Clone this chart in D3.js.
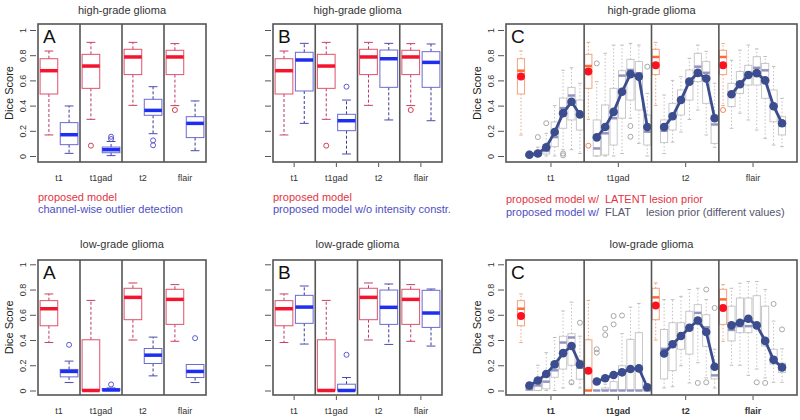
<!DOCTYPE html>
<html>
<head>
<meta charset="utf-8">
<script src="https://cdn.jsdelivr.net/npm/d3@7"></script>
<style>
  body { margin: 0; background: #fff; }
  svg text { font-family: "Liberation Sans", Arial, sans-serif; }
</style>
</head>
<body>
<div id="chart"></div>
<script>
const width = 800;
const height = 420;

// ---- data ----
const modalities = ['t1', 't1gad', 't2', 'flair'];
const yTicks = [0, 0.2, 0.4, 0.6, 0.8, 1];

// box stats: [lower whisker, q1, median, q3, upper whisker]
const hgProposed = [
  [0.167, 0.492, 0.677, 0.772, 0.833],
  [0.291, 0.537, 0.714, 0.807, 0.902],
  [0.402, 0.646, 0.786, 0.847, 0.902],
  [0.40, 0.646, 0.786, 0.839, 0.892]
];
const hgProposedOut = [[], [0.082], [], [0.365]];
const hgProposedMean = [0.63, 0.67, 0.72, 0.72];

const hgChannelWise = [
  [0.021, 0.09, 0.169, 0.265, 0.397],
  [0.003, 0.026, 0.05, 0.071, 0.115],
  [0.177, 0.323, 0.362, 0.45, 0.55],
  [0.042, 0.146, 0.259, 0.312, 0.437]
];
const hgChannelWiseOut = [[], [0.153, 0.135], [0.124, 0.085], []];

const hgNoConstr = [
  [0.259, 0.516, 0.762, 0.823, 0.894],
  [0.016, 0.201, 0.28, 0.331, 0.444],
  [0.286, 0.545, 0.772, 0.841, 0.894],
  [0.28, 0.545, 0.743, 0.828, 0.889]
];
const hgNoConstrOut = [[], [0.55], [], []];

const lgProposed = [
  [0.38, 0.513, 0.648, 0.712, 0.765],
  [0, 0, 0, 0.402, 0.714],
  [0.40, 0.561, 0.738, 0.81, 0.852],
  [0.39, 0.524, 0.722, 0.802, 0.839]
];
const lgProposedOut = [[], [], [], []];
const lgProposedMean = [0.59, 0.157, 0.673, 0.654];

const lgChannelWise = [
  [0.063, 0.108, 0.151, 0.167, 0.233],
  [0, 0, 0.004, 0.016, 0.02],
  [0.116, 0.214, 0.28, 0.333, 0.423],
  [0.063, 0.103, 0.151, 0.206, 0.206]
];
const lgChannelWiseOut = [[0.362], [0.048], [], [0.415]];

const lgNoConstr = [
  [0.368, 0.532, 0.661, 0.754, 0.828],
  [0, 0, 0, 0.05, 0.103],
  [0.365, 0.524, 0.659, 0.796, 0.844],
  [0.352, 0.5, 0.614, 0.794, 0.804]
];
const lgNoConstrOut = [[], [0.283], [], []];

// flat lesion prior, 7 settings per modality
const hgFlat = [
  [[0, 0, 0.005, 0.015, 0.04], [0, 0.005, 0.01, 0.03, 0.07], [0, 0.016, 0.04, 0.074, 0.18],
   [0, 0.074, 0.15, 0.27, 0.40], [0.05, 0.22, 0.38, 0.46, 0.68], [0.05, 0.286, 0.48, 0.545, 0.70],
   [0.02, 0.206, 0.33, 0.444, 0.577]],
  [[0, 0, 0.06, 0.286, 0.59], [0, 0.008, 0.18, 0.405, 0.815], [0, 0.087, 0.30, 0.537, 0.88],
   [0.02, 0.30, 0.638, 0.677, 0.88], [0.30, 0.444, 0.683, 0.767, 0.894], [0.10, 0.365, 0.656, 0.749, 0.88],
   [0, 0.087, 0.193, 0.325, 0.497]],
  [[0.02, 0.106, 0.20, 0.286, 0.484], [0.11, 0.206, 0.30, 0.418, 0.60], [0.19, 0.325, 0.45, 0.524, 0.63],
   [0.29, 0.444, 0.60, 0.683, 0.775], [0.365, 0.59, 0.709, 0.815, 0.88], [0.167, 0.418, 0.66, 0.749, 0.83],
   [0.07, 0.10, 0.25, 0.325, 0.577]],
  [[0.22, 0.392, 0.49, 0.577, 0.76], [0.34, 0.497, 0.58, 0.67, 0.84], [0.286, 0.563, 0.66, 0.72, 0.88],
   [0.206, 0.563, 0.70, 0.788, 0.85], [0.14, 0.458, 0.68, 0.735, 0.79], [0.087, 0.272, 0.40, 0.524, 0.71],
   [0.074, 0.167, 0.24, 0.312, 0.458]]
];
const hgFlatOut = [
  [[], [0.15], [0.26], [], [0.02, 0.005], [], []],
  [[0.735], [], [], [], [0.238, 0.153], [], [0.709]],
  [[], [], [], [], [], [], []],
  [[], [], [], [], [], [], []]
];
const hgFlatMean = [
  [0.01, 0.02, 0.07, 0.19, 0.34, 0.43, 0.33],
  [0.148, 0.23, 0.35, 0.51, 0.65, 0.63, 0.23],
  [0.23, 0.315, 0.445, 0.59, 0.66, 0.615, 0.30],
  [0.49, 0.57, 0.643, 0.658, 0.60, 0.395, 0.26]
];

const lgFlat = [
  [[0, 0, 0.01, 0.03, 0.06], [0, 0, 0.04, 0.09, 0.20], [0, 0.013, 0.07, 0.144, 0.30],
   [0, 0.105, 0.16, 0.222, 0.42], [0.02, 0.17, 0.38, 0.43, 0.63], [0.05, 0.20, 0.42, 0.45, 0.70],
   [0.02, 0.09, 0.18, 0.24, 0.43]],
  [[0, 0, 0, 0, 0], [0, 0, 0, 0.02, 0.05], [0, 0, 0, 0.07, 0.15],
   [0, 0, 0, 0.196, 0.45], [0, 0, 0, 0.405, 0.66], [0, 0, 0, 0.458, 0.69],
   [0, 0, 0, 0.02, 0.04]],
  [[0.02, 0.092, 0.33, 0.484, 0.72], [0.03, 0.157, 0.35, 0.537, 0.72], [0.196, 0.327, 0.42, 0.537, 0.746],
   [0.06, 0.288, 0.497, 0.628, 0.80], [0.22, 0.524, 0.615, 0.68, 0.81], [0.10, 0.35, 0.50, 0.60, 0.72],
   [0.02, 0.092, 0.12, 0.183, 0.327]],
  [[0.20, 0.393, 0.48, 0.668, 0.81], [0.20, 0.458, 0.51, 0.733, 0.85], [0.12, 0.458, 0.51, 0.733, 0.864],
   [0.17, 0.505, 0.52, 0.751, 0.864], [0.10, 0.353, 0.39, 0.668, 0.80], [0.065, 0.209, 0.26, 0.327, 0.55],
   [0.065, 0.144, 0.175, 0.217, 0.33]]
];
const lgFlatOut = [
  [[], [], [], [], [], [0.065], [0.537]],
  [[0.327, 0.30], [0.49, 0.44], [0.59, 0.524], [0.594], [], [], []],
  [[], [], [], [], [0.06], [0.80, 0.065], [0.654]],
  [[], [], [], [0.065], [0.06], [0.686], [0.484]]
];
const lgFlatMean = [
  [0.04, 0.079, 0.131, 0.207, 0.296, 0.353, 0.207],
  [0.071, 0.097, 0.123, 0.144, 0.17, 0.175, 0.026],
  [0.293, 0.366, 0.432, 0.497, 0.555, 0.463, 0.188],
  [0.516, 0.537, 0.568, 0.516, 0.393, 0.243, 0.183]
];

// ---- styles ----
const frameColor = '#555';
const textColor = '#333';
const redStyle = {box: '#e2506a', median: '#f5142d', whisker: '#b83b6b', cap: '#c8405a', out: '#d04050', dash: '3,2', medW: 3.5, boxW: 1};
const blueStyle = {box: '#6a6ad6', median: '#1f2ff0', whisker: '#3a3a9a', cap: '#4a4ab0', out: '#5a5ad0', dash: '3,2', medW: 3.5, boxW: 1};
const orangeStyle = {box: '#f3a37e', median: '#ff6a33', whisker: '#f3a37e', cap: '#f3a37e', out: '#f08a60', dash: '1.5,2', medW: 2.5, boxW: 1};
const greyStyle = {box: '#c2c2c2', median: '#9494c0', whisker: '#c2c2c2', cap: '#bdbdbd', out: '#a8a8a8', dash: '1.5,2', medW: 2.5, boxW: 0.9};
const lineBlue = '#3b4d8f';

const rows = [
  {top: 24, bottom: 162, y: d3.scaleLinear().domain([0, 1]).range([156, 30]), title: 'high-grade glioma', titleY: 14},
  {top: 260, bottom: 395, y: d3.scaleLinear().domain([0, 1]).range([390.5, 264.3]), title: 'low-grade glioma', titleY: 248}
];
const panelA = [38, 206];
const panelB = [273, 442];
const panelC = [506, 797];

const svg = d3.select('#chart')
  .append('svg')
  .attr('width', width)
  .attr('height', height);

svg.append('rect').attr('width', width).attr('height', height).attr('fill', '#fff');

function frame(x0, x1, row, letter, showLabels) {
  const g = svg.append('g');
  g.append('rect')
    .attr('x', x0).attr('y', row.top)
    .attr('width', x1 - x0).attr('height', row.bottom - row.top)
    .attr('fill', 'none').attr('stroke', frameColor).attr('stroke-width', 1.6);

  g.append('text')
    .attr('x', (x0 + x1) / 2).attr('y', row.titleY)
    .attr('text-anchor', 'middle').attr('fill', textColor)
    .style('font-size', '11px')
    .text(row.title);

  g.append('text')
    .attr('x', x0 + 5).attr('y', row.top + 19)
    .attr('fill', '#111').style('font-size', '19px')
    .text(letter);

  const ax = g.append('g')
    .attr('transform', `translate(${x0 - 2},0)`)
    .call(d3.axisLeft(row.y).tickValues(yTicks).tickSize(6).tickFormat(showLabels ? d3.format('~g') : ''));
  ax.attr('font-family', null).attr('font-size', null);
  ax.select('.domain').remove();
  ax.selectAll('.tick line').attr('stroke', frameColor);
  ax.selectAll('.tick text')
    .attr('x', null).attr('dy', null)
    .attr('transform', 'translate(-10,0) rotate(-90)')
    .attr('text-anchor', 'middle')
    .attr('fill', textColor)
    .style('font-size', '9px');

  if (showLabels) {
    g.append('text')
      .attr('transform', `translate(${x0 - 25},${(row.y(0) + row.y(1)) / 2}) rotate(-90)`)
      .attr('text-anchor', 'middle').attr('fill', '#222')
      .style('font-size', '11px')
      .text('Dice Score');
  }
  return g;
}

function xAxis(g, scale, row, values, fmt, tickLen, bold) {
  const ax = g.append('g')
    .attr('transform', `translate(0,${row.bottom + 1})`)
    .call(d3.axisBottom(scale).tickValues(values).tickFormat(fmt).tickSize(tickLen).tickPadding(12 - tickLen));
  ax.attr('font-family', null).attr('font-size', null);
  ax.select('.domain').remove();
  ax.selectAll('.tick line').attr('stroke', frameColor);
  ax.selectAll('.tick text')
    .attr('fill', textColor)
    .style('font-size', '9px')
    .style('font-weight', bold ? 'bold' : 'normal');
}

function boxplot(g, cx, w, s, out, y, st) {
  const [lo, q1, med, q3, hi] = s;
  const c = w * 0.25;
  g.append('line').attr('x1', cx).attr('x2', cx).attr('y1', y(q3)).attr('y2', y(hi))
    .attr('stroke', st.whisker).attr('stroke-dasharray', st.dash);
  g.append('line').attr('x1', cx).attr('x2', cx).attr('y1', y(q1)).attr('y2', y(lo))
    .attr('stroke', st.whisker).attr('stroke-dasharray', st.dash);
  [lo, hi].forEach(v => {
    g.append('line').attr('x1', cx - c).attr('x2', cx + c).attr('y1', y(v)).attr('y2', y(v))
      .attr('stroke', st.cap);
  });
  g.append('rect')
    .attr('x', cx - w / 2).attr('y', y(q3))
    .attr('width', w).attr('height', Math.max(0, y(q1) - y(q3)))
    .attr('fill', 'none').attr('stroke', st.box).attr('stroke-width', st.boxW);
  g.append('line').attr('x1', cx - w / 2).attr('x2', cx + w / 2).attr('y1', y(med)).attr('y2', y(med))
    .attr('stroke', st.median).attr('stroke-width', st.medW);
  g.selectAll(null).data(out).enter().append('circle')
    .attr('cx', cx).attr('cy', d => y(d)).attr('r', 2.5)
    .attr('fill', 'none').attr('stroke', st.out);
}

function pairPanel(range, row, letter, showLabels, redS, redO, blueS, blueO, ticks) {
  const g = frame(range[0], range[1], row, letter, showLabels);
  const band = d3.scaleBand().domain(modalities).range(range);
  const bw = band.bandwidth();
  modalities.forEach((m, i) => {
    const cx = band(m) + bw / 2;
    boxplot(g, cx - 0.24 * bw, 0.42 * bw, redS[i], redO[i], row.y, redStyle);
    boxplot(g, cx + 0.24 * bw, 0.42 * bw, blueS[i], blueO[i], row.y, blueStyle);
    if (i > 0) {
      g.append('line').attr('x1', band(m)).attr('x2', band(m))
        .attr('y1', row.top).attr('y2', row.bottom)
        .attr('stroke', frameColor).attr('stroke-width', 1.6);
    }
  });
  xAxis(g, band, row, modalities, d => d, ticks ? 4 : 0, false);
}

function flatPanel(range, row, propS, propO, propMean, flatS, flatO, flatMean, bold) {
  const g = frame(range[0], range[1], row, 'C', true);
  const x = d3.scaleLinear().domain([-0.78, 33.78]).range(range);
  const w = 0.85 * (x(1) - x(0));
  const line = d3.line().x(d => x(d.p)).y(d => row.y(d.v));
  modalities.forEach((m, i) => {
    const base = 8 * i + 1;
    boxplot(g, x(base), w, propS[i], propO[i], row.y, orangeStyle);
    flatS[i].forEach((s, j) => boxplot(g, x(base + 1 + j), w, s, flatO[i][j], row.y, greyStyle));
    const pts = flatMean[i].map((v, j) => ({p: base + 1 + j, v}));
    g.append('path').datum(pts).attr('d', line)
      .attr('fill', 'none').attr('stroke', lineBlue).attr('stroke-width', 2.8);
    g.selectAll(null).data(pts).enter().append('circle')
      .attr('cx', d => x(d.p)).attr('cy', d => row.y(d.v)).attr('r', 4.3)
      .attr('fill', lineBlue);
    g.append('circle').attr('cx', x(base)).attr('cy', row.y(propMean[i])).attr('r', 4)
      .attr('fill', '#ff1020');
    if (i > 0) {
      g.append('line').attr('x1', x(base - 0.5)).attr('x2', x(base - 0.5))
        .attr('y1', row.top).attr('y2', row.bottom)
        .attr('stroke', frameColor).attr('stroke-width', 1.6);
    }
  });
  xAxis(g, x, row, modalities.map((m, i) => 8 * i + 4.5), (d, i) => modalities[i], 4, bold);
}

pairPanel(panelA, rows[0], 'A', true, hgProposed, hgProposedOut, hgChannelWise, hgChannelWiseOut, false);
pairPanel(panelB, rows[0], 'B', false, hgProposed, hgProposedOut, hgNoConstr, hgNoConstrOut, true);
flatPanel(panelC, rows[0], hgProposed, hgProposedOut, hgProposedMean, hgFlat, hgFlatOut, hgFlatMean, false);

pairPanel(panelA, rows[1], 'A', true, lgProposed, lgProposedOut, lgChannelWise, lgChannelWiseOut, false);
pairPanel(panelB, rows[1], 'B', false, lgProposed, lgProposedOut, lgNoConstr, lgNoConstrOut, true);
flatPanel(panelC, rows[1], lgProposed, lgProposedOut, lgProposedMean, lgFlat, lgFlatOut, lgFlatMean, true);

// legends
const legendRed = '#e3343f';
const legendBlue = '#4e4ec4';

function legendText(x, y, parts, size) {
  const t = svg.append('text').attr('x', x).attr('y', y).style('font-size', size + 'px');
  parts.forEach(p => {
    const s = t.append('tspan').attr('fill', p.color).text(p.text);
    if (p.x !== undefined) s.attr('x', p.x);
  });
}

legendText(panelA[0], 201, [{text: 'proposed model', color: legendRed}], 11);
legendText(panelA[0], 213, [{text: 'channel-wise outlier detection', color: legendBlue}], 11);
legendText(panelB[0], 201, [{text: 'proposed model', color: legendRed}], 11);
legendText(panelB[0], 213, [{text: 'proposed model w/o intensity constr.', color: legendBlue}], 11);
legendText(panelC[0], 203, [
  {text: 'proposed model w/', color: legendRed},
  {text: 'LATENT lesion prior', color: legendRed, x: 605}
], 11);
legendText(panelC[0], 216, [
  {text: 'proposed model w/', color: legendBlue},
  {text: 'FLAT', color: '#55556e', x: 605},
  {text: 'lesion prior (different values)', color: '#55556e', x: 646}
], 11);
</script>
</body>
</html>
